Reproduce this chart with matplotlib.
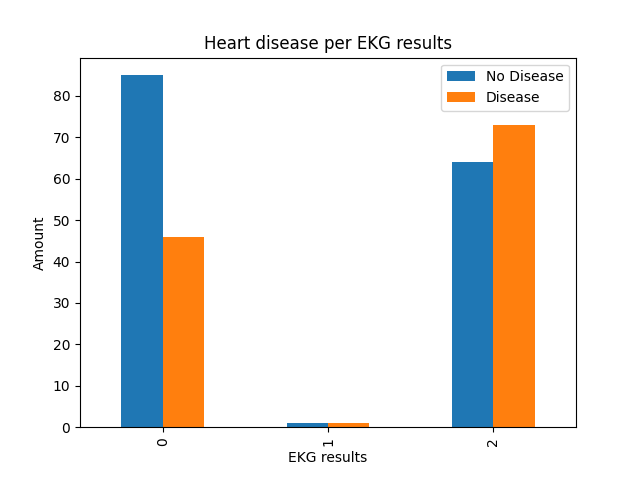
import pandas as pd
import matplotlib
matplotlib.use("Agg")
import matplotlib.pyplot as plt

ekg = [0, 1, 2]
no_disease = [85, 1, 64]
disease = [46, 1, 73]

df = pd.DataFrame({"No Disease": no_disease, "Disease": disease}, index=ekg)

ax = df.plot(kind="bar")
ax.set_title("Heart disease per EKG results")
ax.set_xlabel("EKG results")
ax.set_ylabel("Amount")

plt.savefig("out.png")
